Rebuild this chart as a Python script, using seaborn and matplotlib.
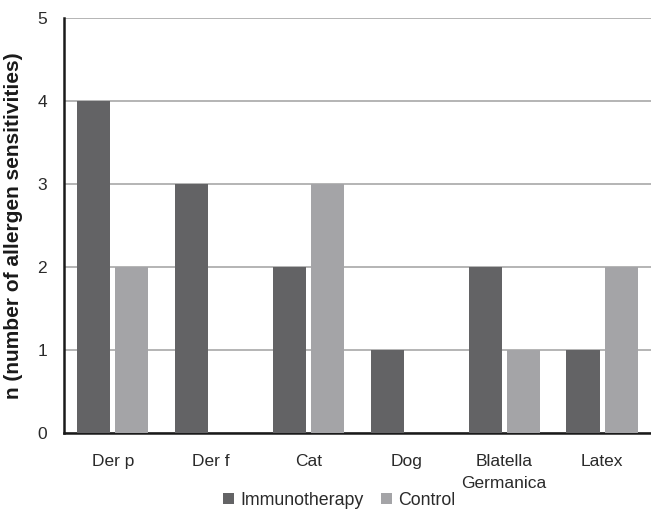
import matplotlib
matplotlib.use("Agg")
import matplotlib.pyplot as plt
import seaborn as sns
import pandas as pd

categories = ["Der p", "Der f", "Cat", "Dog", "Blatella\nGermanica", "Latex"]
immunotherapy = [4, 3, 2, 1, 2, 1]
control = [2, 0, 3, 0, 1, 2]
groups = ["Immunotherapy", "Control"]
yticks = [0, 1, 2, 3, 4, 5]

df = pd.DataFrame({
    "allergen": categories * 2,
    "n": immunotherapy + control,
    "group": [groups[0]] * len(categories) + [groups[1]] * len(categories),
})

sns.set_theme(style="white")
plt.rcParams["font.family"] = ["Liberation Sans", "DejaVu Sans"]

fig = plt.figure(figsize=(6.51, 5.11), dpi=100)
ax = fig.add_axes([0.098, 0.153, 0.902, 0.812])

palette = {"Immunotherapy": "#636365", "Control": "#a4a4a7"}
sns.barplot(data=df, x="allergen", y="n", hue="group", order=categories,
            hue_order=groups, palette=palette, width=0.78, gap=0.13,
            linewidth=0, saturation=1, ax=ax, errorbar=None, zorder=3)

ax.set_ylim(0, 5)
ax.set_yticks(yticks)
ax.yaxis.grid(True, color="#a8a8a8", linewidth=1.2, zorder=0)
ax.set_axisbelow(True)
for s in ["top", "right"]:
    ax.spines[s].set_visible(False)
for s in ["left", "bottom"]:
    ax.spines[s].set_color("#1a1a1a")
    ax.spines[s].set_linewidth(1.8)
ax.tick_params(axis="both", length=0, labelsize=12.5, labelcolor="#2a2a2a")
ax.tick_params(axis="y", pad=12)
ax.tick_params(axis="x", pad=15)
for lbl in ax.get_xticklabels():
    lbl.set_linespacing(1.6)
    lbl.set_verticalalignment("top")
ax.set_xlabel("")
ax.set_ylabel("n (number of allergen sensitivities)", fontsize=15,
              fontweight="bold", color="#1a1a1a", labelpad=10)

leg = ax.legend(loc="center", bbox_to_anchor=(0.469, -0.163), ncol=2,
                frameon=False, fontsize=12.8, handlelength=0.6,
                handleheight=0.6, handletextpad=0.35, columnspacing=1.0,
                borderpad=0)
for t in leg.get_texts():
    t.set_color("#2a2a2a")

fig.savefig("out.png", dpi=100)
